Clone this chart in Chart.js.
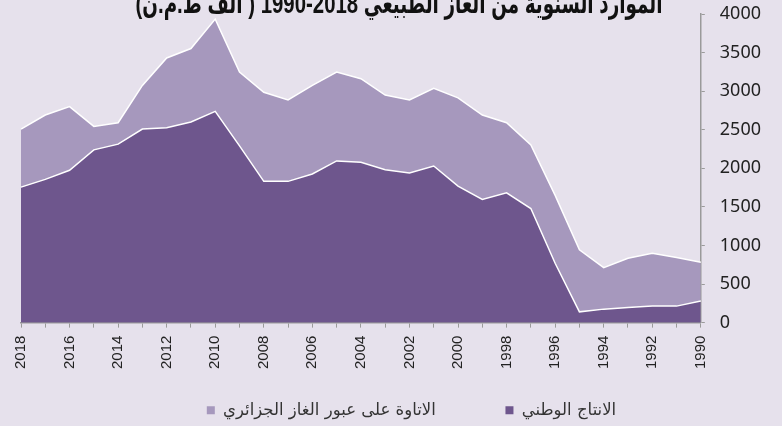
<!DOCTYPE html>
<html>
<head>
<meta charset="utf-8">
<script src="https://cdn.jsdelivr.net/npm/chart.js@4/dist/chart.umd.min.js"></script>
<style>
  html, body { margin: 0; padding: 0; background: #e6e1ec; }
  #wrap { width: 782px; height: 426px; }
</style>
</head>
<body>
<div id="wrap"><canvas id="chartGas"></canvas></div>
<script>
const titulo = 'الموارد السنوية من الغاز الطبيعي 2018-1990 ( ألف ط.م.ن)';
const serieNacional = 'الانتاج الوطني';
const serieAtaua = 'الاتاوة على عبور الغاز الجزائري';

const anios = ['2018', '2017', '2016', '2015', '2014', '2013', '2012', '2011', '2010', '2009',
    '2008', '2007', '2006', '2005', '2004', '2003', '2002', '2001', '2000', '1999',
    '1998', '1997', '1996', '1995', '1994', '1993', '1992', '1991', '1990'];

const nacional = [1756, 1857, 1974, 2239, 2313, 2509, 2526, 2600, 2738, 2291,
    1831, 1831, 1926, 2096, 2079, 1982, 1939, 2030, 1770, 1596,
    1682, 1479, 770, 140, 175, 196, 214, 214, 279];

const ataua = [753, 834, 826, 304, 278, 565, 904, 952, 1196, 956,
    1155, 1056, 1148, 1151, 1082, 968, 948, 1008, 1143, 1095,
    909, 825, 880, 804, 538, 639, 686, 630, 503];

const yMax = 4000;
const yPaso = 500;

document.addEventListener('DOMContentLoaded', function () {
    // titulo arriba, cortado como en la imagen
    const tituloPlugin = {
        id: 'tituloArabe',
        afterDraw(chart) {
            const ctx = chart.ctx;
            ctx.save();
            ctx.direction = 'rtl';
            ctx.font = 'bold 28px "Liberation Sans", "DejaVu Sans Condensed", "DejaVu Sans"';
            const w = ctx.measureText(titulo).width;
            const sx = Math.min(1, 527 / w);
            ctx.fillStyle = '#111';
            ctx.textAlign = 'center';
            ctx.textBaseline = 'alphabetic';
            ctx.translate(399, 13);
            ctx.scale(sx, 1);
            ctx.fillText(titulo, 0, 0);
            ctx.restore();
        }
    };

    // mover la leyenda un poco (derecha y abajo)
    const leyendaPlugin = {
        id: 'leyendaDesplazada',
        afterLayout(chart) {
            const lg = chart.legend;
            lg.left += 13;
            lg.right += 13;
            lg.top += 13;
            lg.bottom += 13;
        }
    };

    const ctx = document.getElementById('chartGas').getContext('2d');
    new Chart(ctx, {
        type: 'line',
        data: {
            labels: anios,
            datasets: [
                {
                    label: serieNacional,
                    data: nacional,
                    backgroundColor: '#6e568d',
                    borderColor: '#ffffff',
                    borderWidth: 1.5,
                    fill: 'origin',
                    pointRadius: 0,
                    tension: 0
                },
                {
                    label: serieAtaua,
                    data: ataua,
                    backgroundColor: '#a698bd',
                    borderColor: '#ffffff',
                    borderWidth: 1.5,
                    fill: '-1',
                    pointRadius: 0,
                    tension: 0
                }
            ]
        },
        options: {
            responsive: true,
            maintainAspectRatio: false,
            animation: false,
            layout: {
                padding: { top: 0, left: 21, right: 6, bottom: 10.5 }
            },
            plugins: {
                title: { display: false },
                tooltip: { enabled: false },
                legend: {
                    position: 'bottom',
                    reverse: true,
                    textDirection: 'rtl',
                    labels: {
                        boxWidth: 8,
                        boxHeight: 8,
                        padding: 12,
                        color: '#333',
                        font: { family: '"DejaVu Sans"', size: 16.5 },
                        generateLabels(chart) {
                            const items = Chart.defaults.plugins.legend.labels.generateLabels(chart);
                            // separacion entre las dos entradas
                            items.forEach((it) => {
                                if (it.datasetIndex === 1) it.text = '\u00A0'.repeat(11) + it.text;
                                it.strokeStyle = it.fillStyle;
                                it.lineWidth = 0;
                            });
                            return items;
                        }
                    }
                }
            },
            scales: {
                x: {
                    offset: false,
                    grid: {
                        drawOnChartArea: false,
                        drawTicks: true,
                        tickLength: 5,
                        color: '#9a9a9a'
                    },
                    border: { display: true, color: '#9a9a9a', width: 1.5 },
                    ticks: {
                        autoSkip: false,
                        minRotation: 90,
                        maxRotation: 90,
                        padding: 8,
                        color: '#222',
                        font: { family: '"Liberation Sans"', size: 15 },
                        callback: function (value, index) {
                            return index % 2 === 0 ? this.getLabelForValue(value) : '';
                        }
                    }
                },
                y: {
                    position: 'right',
                    stacked: true,
                    min: 0,
                    max: yMax,
                    afterFit: (scale) => {
                        scale.paddingTop = 14;
                        scale.paddingBottom = 0;
                    },
                    grid: {
                        drawOnChartArea: false,
                        drawTicks: true,
                        tickLength: 4,
                        color: '#9a9a9a'
                    },
                    border: { display: true, color: '#9a9a9a', width: 1.5 },
                    ticks: {
                        stepSize: yPaso,
                        padding: 15,
                        color: '#222',
                        font: { family: '"Noto Sans"', size: 18 },
                        callback: (v) => String(v)
                    }
                }
            }
        },
        plugins: [tituloPlugin, leyendaPlugin]
    });
});
</script>
</body>
</html>
